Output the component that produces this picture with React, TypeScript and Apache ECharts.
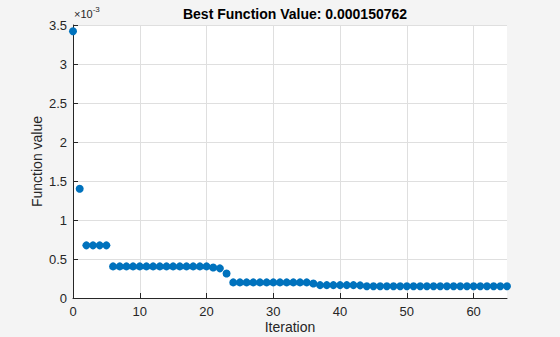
import React, { useEffect, useRef } from "react";
import * as echarts from "echarts";

// Iteration numbers 0..65 and best function values (in units of 1e-3)
const iterations: number[] = [];
for (let i = 0; i <= 65; i++) iterations.push(i);

const values: number[] = [
  3.42, 1.40, 0.675, 0.675, 0.675, 0.675,
  0.405, 0.405, 0.405, 0.405, 0.405, 0.405, 0.405, 0.405, 0.405, 0.405,
  0.405, 0.405, 0.405, 0.405, 0.405,
  0.39, 0.38, 0.315,
  0.20, 0.20, 0.20, 0.20, 0.20, 0.20, 0.20, 0.20, 0.20, 0.20, 0.20, 0.20,
  0.185,
  0.165, 0.165, 0.165, 0.165, 0.165, 0.165, 0.162,
  0.1508, 0.1508, 0.1508, 0.1508, 0.1508, 0.1508, 0.1508, 0.1508, 0.1508,
  0.1508, 0.1508, 0.1508, 0.1508, 0.1508, 0.1508, 0.1508, 0.1508, 0.1508,
  0.1508, 0.1508, 0.1508, 0.1508,
];

const xTicks = [0, 10, 20, 30, 40, 50, 60];
const titleText = "Best Function Value: 0.000150762";

export default function App() {
  const ref = useRef<HTMLDivElement>(null);
  useEffect(() => {
    if (!ref.current) return;
    const chart = echarts.init(ref.current, undefined, { renderer: "svg" });
    const font = "Arial, 'Liberation Sans', Helvetica, sans-serif";
    chart.setOption({
      animation: false,
      backgroundColor: "#f4f4f4",
      textStyle: { fontFamily: font },
      title: {
        text: titleText,
        left: 290,
        top: 2,
        textAlign: "center",
        textStyle: { fontSize: 14, fontWeight: "bold", color: "#000", fontFamily: font },
      },
      grid: {
        left: 73,
        right: 53,
        top: 25,
        bottom: 39,
        show: true,
        backgroundColor: "#ffffff",
        borderWidth: 0,
        containLabel: false,
        outerBoundsMode: "none",
      },
      xAxis: {
        type: "value",
        min: 0,
        max: 65,
        interval: 10,
        name: "Iteration",
        nameLocation: "middle",
        nameGap: 22,
        nameMoveOverlap: false,
        nameTextStyle: { fontSize: 14, color: "#262626", fontFamily: font },
        axisLine: { show: true, onZero: false, lineStyle: { color: "#262626", width: 1 } },
        axisTick: { show: true, inside: true, length: 5, lineStyle: { color: "#262626" }, customValues: xTicks },
        axisLabel: { fontSize: 13, color: "#262626", margin: 7, customValues: xTicks, fontFamily: font },
        splitLine: { show: true, lineStyle: { color: "#dfdfdf", width: 1 } },
      },
      yAxis: {
        type: "value",
        min: 0,
        max: 3.5,
        interval: 0.5,
        name: "Function value",
        nameLocation: "middle",
        nameGap: 29,
        nameMoveOverlap: false,
        nameTextStyle: { fontSize: 14, color: "#262626", fontFamily: font },
        axisLine: { show: true, lineStyle: { color: "#262626", width: 1 } },
        axisTick: { show: true, inside: true, length: 5, lineStyle: { color: "#262626" } },
        axisLabel: { fontSize: 13, color: "#262626", margin: 6, fontFamily: font },
        splitLine: { show: true, lineStyle: { color: "#dfdfdf", width: 1 } },
      },
      graphic: [
        {
          type: "text",
          left: 74,
          top: 5,
          style: {
            text: "{a|×10}{b|-3}",
            rich: {
              a: { fontSize: 11, fill: "#262626", fontFamily: font, verticalAlign: "bottom" },
              b: { fontSize: 8, fill: "#262626", fontFamily: font, verticalAlign: "top", padding: [0, 0, 6, 0] },
            },
          },
        },
      ],
      series: [
        {
          type: "scatter",
          data: iterations.map((it, i) => [it, values[i]]),
          symbol: "circle",
          symbolSize: 8,
          itemStyle: { color: "#0072BD", opacity: 1 },
          clip: false,
        },
      ],
    });
    return () => chart.dispose();
  }, []);
  return (
    <div
      ref={ref}
      style={{ position: "absolute", left: 0, top: 0, width: 560, height: 337 }}
    />
  );
}
